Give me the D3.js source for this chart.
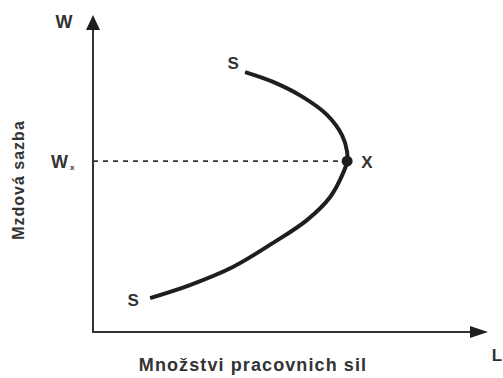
<!DOCTYPE html>
<html>
<head>
<meta charset="utf-8">
<script src="https://cdn.jsdelivr.net/npm/d3@7"></script>
<style>
  html, body { margin: 0; padding: 0; background: #fff; }
  svg text { font-family: "Liberation Sans", Arial, sans-serif; fill: #333; font-weight: bold; }
</style>
</head>
<body>
<div id="app"></div>
<script>
// supply curve of labour (L = quantity, W = wage), backward bending
const curveL = [14.5, 24.6, 35.5, 45.7, 54.3, 60.2, 63.5, 64.5, 64.5, 63.2, 59.4, 53.3, 45.7, 38.6];
const curveW = [10.7, 14.8, 20.5, 28.1, 35.3, 42.6, 50.2, 53.9, 56.8, 62.1, 68.5, 74.1, 78.9, 82.0];
const pointX = { L: 64.5, W: 53.9 };
const axisLabels = { x: "Množstvi pracovnich sil", y: "Mzdová sazba", xEnd: "L", yEnd: "W" };

const width = 503, height = 378;

const svg = d3.select("#app")
  .append("svg")
  .attr("width", width)
  .attr("height", height);

const x = d3.scaleLinear().domain([0, 100]).range([93, 487]);
const y = d3.scaleLinear().domain([0, 100]).range([332, 15]);

const ink = "#1e1e1e";

// axes
svg.append("line")
  .attr("x1", x(0)).attr("y1", y(0))
  .attr("x2", x(0)).attr("y2", y(100) + 12)
  .attr("stroke", "#333").attr("stroke-width", 2);
svg.append("line")
  .attr("x1", x(0) - 1).attr("y1", y(0))
  .attr("x2", x(100) - 14).attr("y2", y(0))
  .attr("stroke", "#333").attr("stroke-width", 2);

// arrow heads
svg.append("path")
  .attr("d", `M ${x(0)} ${y(100)} L ${x(0) - 7} ${y(100) + 15} L ${x(0) + 7} ${y(100) + 15} Z`)
  .attr("fill", ink);
svg.append("path")
  .attr("d", `M ${x(100) + 1} ${y(0)} L ${x(100) - 17} ${y(0) - 6} L ${x(100) - 17} ${y(0) + 6} Z`)
  .attr("fill", ink);

// dashed wage line
svg.append("line")
  .attr("x1", x(0)).attr("y1", y(pointX.W))
  .attr("x2", x(pointX.L)).attr("y2", y(pointX.W))
  .attr("stroke", "#333")
  .attr("stroke-width", 1.6)
  .attr("stroke-dasharray", "5,5");

// the curve
const pts = curveL.map((l, i) => [l, curveW[i]]);
const line = d3.line()
  .x(d => x(d[0]))
  .y(d => y(d[1]))
  .curve(d3.curveCatmullRom.alpha(0.5));

svg.append("path")
  .datum(pts)
  .attr("d", line)
  .attr("fill", "none")
  .attr("stroke", ink)
  .attr("stroke-width", 4)
  .attr("stroke-linecap", "butt");

svg.append("circle")
  .attr("cx", x(pointX.L))
  .attr("cy", y(pointX.W))
  .attr("r", 5.5)
  .attr("fill", ink);

// labels
svg.append("text")
  .attr("x", 64).attr("y", 28)
  .attr("text-anchor", "middle")
  .attr("font-size", 18)
  .text(axisLabels.yEnd);

const wx = svg.append("text")
  .attr("x", 51).attr("y", 168)
  .attr("font-size", 18);
wx.append("tspan").text("W");
wx.append("tspan").attr("font-size", 8).attr("dy", 2).attr("dx", 2).text("x");

svg.append("text")
  .attr("x", 367).attr("y", 168)
  .attr("text-anchor", "middle")
  .attr("font-size", 17)
  .text("X");

svg.append("text")
  .attr("x", x(curveL[curveL.length - 1]) - 12).attr("y", y(curveW[curveW.length - 1]) - 3)
  .attr("text-anchor", "middle")
  .attr("font-size", 17)
  .text("S");

svg.append("text")
  .attr("x", x(curveL[0]) - 17).attr("y", y(curveW[0]) + 8)
  .attr("text-anchor", "middle")
  .attr("font-size", 17)
  .text("S");

svg.append("text")
  .attr("x", 497).attr("y", 361)
  .attr("text-anchor", "middle")
  .attr("font-size", 17)
  .text(axisLabels.xEnd);

svg.append("text")
  .attr("x", 253).attr("y", 371)
  .attr("text-anchor", "middle")
  .attr("font-size", 18)
  .attr("letter-spacing", 1.1)
  .text(axisLabels.x);

svg.append("text")
  .attr("transform", "translate(24,180) rotate(-90)")
  .attr("text-anchor", "middle")
  .attr("font-size", 16)
  .attr("letter-spacing", 1)
  .text(axisLabels.y);
</script>
</body>
</html>
